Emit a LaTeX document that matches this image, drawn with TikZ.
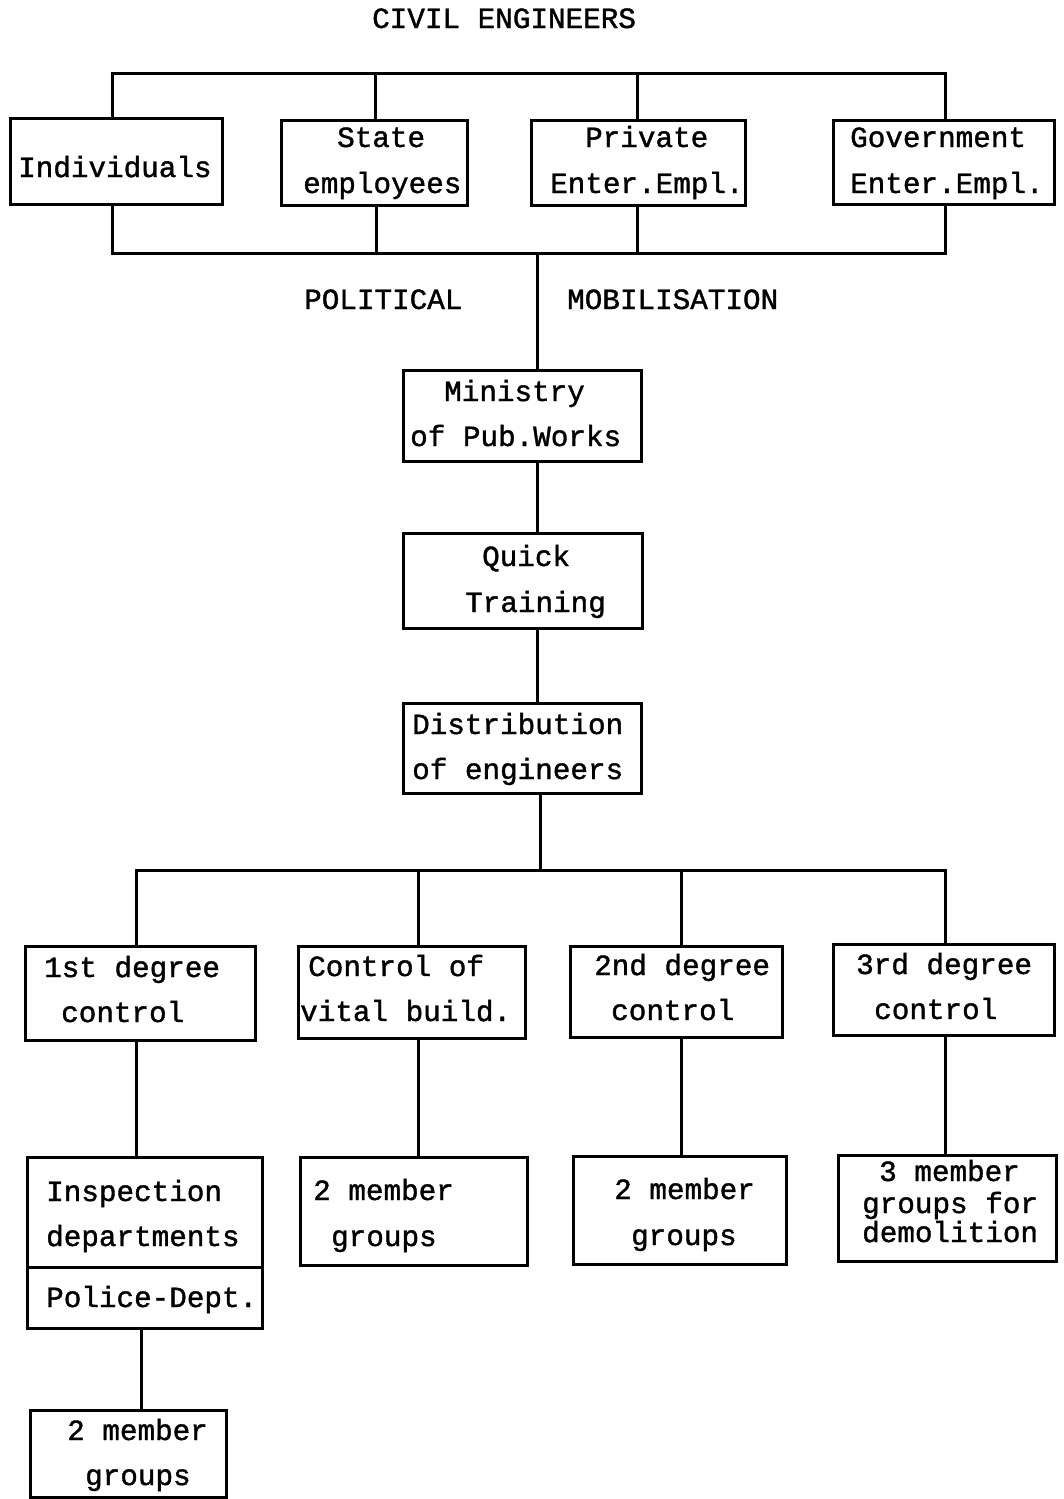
\documentclass[tikz,border=0pt]{standalone}
\usepackage{fontspec}
\setmainfont[FakeBold=1.3,AutoFakeBold=1.3]{Liberation Mono}
\newcommand{\twfont}{\fontsize{29.3}{35}\selectfont}
\begin{document}
\begin{tikzpicture}[x=1pt,y=-1pt,
  box/.style={draw,line width=3pt,inner sep=0pt,rectangle},
  txt/.style={anchor=base west,inner sep=0pt,font=\twfont\bfseries},
  conn/.style={line width=3pt,line cap=rect}]
\useasboundingbox (0,0) rectangle (1064,1499);
% title
\node[txt] (title) at (372,28) {CIVIL ENGINEERS};
% top boxes
\node[box,minimum width=212pt,minimum height=86pt] (ind) at (116,161) {};
\node[box,minimum width=186pt,minimum height=85pt] (state) at (374,162.5) {};
\node[box,minimum width=214pt,minimum height=85pt] (priv) at (638,162.5) {};
\node[box,minimum width=221pt,minimum height=84pt] (gov) at (943.5,162) {};
\node[txt] (tind) at (18,177) {Individuals};
\node[txt] (tst1) at (337,147) {State};
\node[txt] (tst2) at (303,193) {employees};
\node[txt] (tpr1) at (585,147) {Private};
\node[txt] (tpr2) at (550,193) {Enter.Empl.};
\node[txt] (tgo1) at (850,147) {Government};
\node[txt] (tgo2) at (850,193) {Enter.Empl.};
% top bus
\coordinate (ta1) at (112,73);
\coordinate (ta2) at (375,73);
\coordinate (ta3) at (637,73);
\coordinate (ta4) at (945,73);
\draw[conn] (ta1) -- (ta4);
\draw[conn] (ta1) -- (ta1 |- ind.north);
\draw[conn] (ta2) -- (ta2 |- state.north);
\draw[conn] (ta3) -- (ta3 |- priv.north);
\draw[conn] (ta4) -- (ta4 |- gov.north);
% bottom bus
\coordinate (tb1) at (112,253);
\coordinate (tb2) at (376,253);
\coordinate (tb3) at (637,253);
\coordinate (tb4) at (945,253);
\draw[conn] (tb1) -- (tb4);
\draw[conn] (tb1 |- ind.south) -- (tb1);
\draw[conn] (tb2 |- state.south) -- (tb2);
\draw[conn] (tb3 |- priv.south) -- (tb3);
\draw[conn] (tb4 |- gov.south) -- (tb4);
\node[txt] (pol) at (304,309) {POLITICAL};
\node[txt] (mob) at (567,309) {MOBILISATION};
% central column
\node[box,minimum width=238pt,minimum height=91pt] (min) at (522,415.5) {};
\node[box,minimum width=239pt,minimum height=95pt] (quick) at (522.5,580.5) {};
\node[box,minimum width=238pt,minimum height=90pt] (dist) at (522,748) {};
\node[txt] (tmi1) at (444,401) {Ministry};
\node[txt] (tmi2) at (410,446) {of Pub.Works};
\node[txt] (tqu1) at (482,566) {Quick};
\node[txt] (tqu2) at (465,612) {Training};
\node[txt] (tdi1) at (412,734) {Distribution};
\node[txt] (tdi2) at (412,779) {of engineers};
\coordinate (c1) at (537,253);
\draw[conn] (c1) -- (c1 |- min.north);
\draw[conn] (min.south -| c1) -- (quick.north -| c1);
\draw[conn] (quick.south -| c1) -- (dist.north -| c1);
% lower bus
\coordinate (c2) at (540,870);
\coordinate (b1) at (136,870);
\coordinate (b2) at (418,870);
\coordinate (b3) at (681,870);
\coordinate (b4) at (945,870);
\draw[conn] (c2 |- dist.south) -- (c2);
\draw[conn] (b1) -- (b4);
% row 1
\node[box,minimum width=230pt,minimum height=94pt] (d1) at (140,993) {};
\node[box,minimum width=227pt,minimum height=92pt] (vital) at (411.5,992) {};
\node[box,minimum width=212pt,minimum height=91pt] (d2) at (676,991.5) {};
\node[box,minimum width=221pt,minimum height=91pt] (d3) at (943.5,989.5) {};
\node[txt] (td11) at (44,977) {1st degree};
\node[txt] (td12) at (61,1022) {control};
\node[txt] (tvi1) at (308,976) {Control of};
\node[txt] (tvi2) at (300,1021) {vital build.};
\node[txt] (td21) at (594,975) {2nd degree};
\node[txt] (td22) at (611,1020) {control};
\node[txt] (td31) at (856,974) {3rd degree};
\node[txt] (td32) at (874,1019) {control};
\draw[conn] (b1) -- (b1 |- d1.north);
\draw[conn] (b2) -- (b2 |- vital.north);
\draw[conn] (b3) -- (b3 |- d2.north);
\draw[conn] (b4) -- (b4 |- d3.north);
% row 2
\node[box,minimum width=235pt,minimum height=110pt] (insp) at (144.5,1212) {};
\node[box,minimum width=235pt,minimum height=61pt] (police) at (144.5,1297.5) {};
\node[box,minimum width=227pt,minimum height=108pt] (g1) at (413.5,1211) {};
\node[box,minimum width=213pt,minimum height=108pt] (g2) at (679.5,1210) {};
\node[box,minimum width=218pt,minimum height=106pt] (g3) at (947,1208) {};
\node[txt] (tin1) at (46,1201) {Inspection};
\node[txt] (tin2) at (46,1246) {departments};
\node[txt] (tpo) at (46,1307) {Police-Dept.};
\node[txt] (tg11) at (313,1200) {2 member};
\node[txt] (tg12) at (331,1246) {groups};
\node[txt] (tg21) at (614,1199) {2 member};
\node[txt] (tg22) at (631,1245) {groups};
\node[txt] (tg31) at (879,1181) {3 member};
\node[txt] (tg32) at (862,1213) {groups for};
\node[txt] (tg33) at (862,1242) {demolition};
\draw[conn] (b1 |- d1.south) -- (b1 |- insp.north);
\draw[conn] (b2 |- vital.south) -- (b2 |- g1.north);
\draw[conn] (b3 |- d2.south) -- (b3 |- g2.north);
\draw[conn] (b4 |- d3.south) -- (b4 |- g3.north);
% bottom
\node[box,minimum width=196pt,minimum height=87pt] (g4) at (128,1453.5) {};
\node[txt] (tg41) at (67,1440) {2 member};
\node[txt] (tg42) at (85,1485) {groups};
\coordinate (p1) at (141,1370);
\draw[conn] (p1 |- police.south) -- (p1 |- g4.north);
\end{tikzpicture}
\end{document}
